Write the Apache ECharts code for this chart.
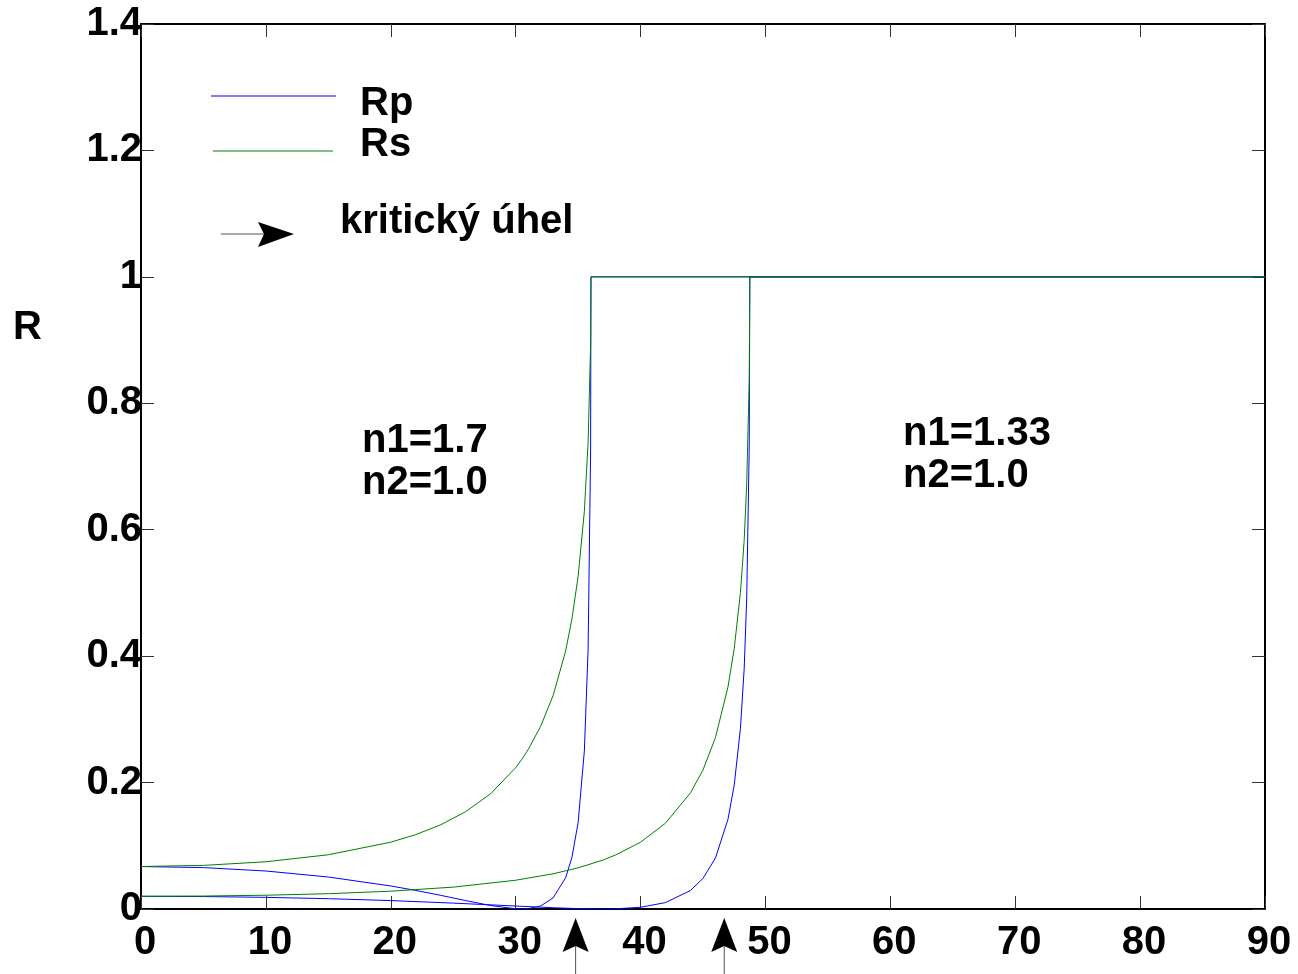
<!DOCTYPE html>
<html>
<head>
<meta charset="utf-8">
<title>R</title>
<script src="https://cdn.jsdelivr.net/npm/echarts@6/dist/echarts.min.js"></script>
<style>
  html, body { margin: 0; padding: 0; background: #fff; }
  #chart { width: 1298px; height: 974px; }
</style>
</head>
<body>
<div id="chart"></div>
<script>
// uhly dopadu (stupne) a odrazivosti
var angle17 = [0, 5, 10, 15, 20, 22, 24, 26, 28, 30, 30.5, 31, 32, 33, 34, 34.5, 35, 35.5, 35.8, 36, 36.03, 90];
var rp17 = [0.0672, 0.0655, 0.0601, 0.0506, 0.0364, 0.0294, 0.0216, 0.0133, 0.0055, 0.0003, 0, 0.0005, 0.0048, 0.0176, 0.0493, 0.0811, 0.1366, 0.25, 0.41, 0.723, 1, 1];
var rs17 = [0.0672, 0.069, 0.0747, 0.0858, 0.1057, 0.1177, 0.1332, 0.154, 0.1824, 0.2236, 0.237, 0.2521, 0.289, 0.3377, 0.408, 0.4584, 0.526, 0.629, 0.7377, 0.894, 1, 1];

var angle133 = [0, 5, 10, 15, 20, 25, 30, 33, 35, 37, 38, 40, 42, 44, 45, 46, 47, 47.5, 48, 48.3, 48.5, 48.7, 48.75, 90];
var rp133 = [0.0201, 0.0197, 0.0184, 0.0163, 0.0133, 0.0093, 0.0047, 0.002, 0.0006, 0, 0.0003, 0.0027, 0.0102, 0.0293, 0.0484, 0.0808, 0.142, 0.196, 0.286, 0.381, 0.492, 0.729, 1, 1];
var rs133 = [0.0201, 0.0205, 0.0218, 0.0242, 0.0282, 0.0346, 0.0455, 0.0557, 0.0651, 0.0775, 0.0854, 0.1057, 0.1358, 0.1838, 0.22, 0.2713, 0.3513, 0.412, 0.501, 0.584, 0.672, 0.836, 1, 1];

// sipky kritickeho uhlu pod osou x
var arrowAngles = [34.8, 46.7];

var font = 'Liberation Sans, Arial, sans-serif';
var blue = '#0000ff', green = '#008000';

function pairs(xs, ys) {
    return xs.map(function (x, i) { return [x, ys[i]]; });
}

function lineSeries(name, color, data) {
    return {
        name: name,
        type: 'line',
        data: data,
        symbol: 'none',
        color: color,
        lineStyle: { color: color, width: 1 },
        xAxisIndex: 0,
        yAxisIndex: 0,
        animation: false
    };
}

function label(text, x, y, extra) {
    var style = { text: text, x: x, y: y, fontSize: 40, fontWeight: 'bold', fill: '#000', fontFamily: font, verticalAlign: 'middle' };
    for (var k in extra) style[k] = extra[k];
    return { type: 'text', style: style };
}

var frameLine = { show: true, onZero: false, lineStyle: { color: '#000', width: 2 } };
var tick = { show: true, inside: true, length: 13, lineStyle: { color: '#333', width: 1 } };

var chart = echarts.init(document.getElementById('chart'));
chart.setOption({
    animation: false,
    backgroundColor: '#fff',
    grid: { left: 141, right: 33, top: 24, bottom: 65, containLabel: false },
    xAxis: [{
        type: 'value', min: 0, max: 90, interval: 10,
        axisLine: frameLine, axisTick: tick, splitLine: { show: false },
        axisLabel: { fontSize: 40, fontWeight: 'bold', color: '#000', fontFamily: font, margin: 14, padding: [0, 0, 0, 8] }
    }, {
        type: 'value', position: 'top', min: 0, max: 90, interval: 10,
        axisLine: frameLine, axisTick: tick, splitLine: { show: false }, axisLabel: { show: false }
    }],
    yAxis: [{
        type: 'value', min: 0, max: 1.4, interval: 0.2,
        axisLine: frameLine, axisTick: tick, splitLine: { show: false },
        axisLabel: { fontSize: 40, fontWeight: 'bold', color: '#000', fontFamily: font, margin: -1 }
    }, {
        type: 'value', position: 'right', min: 0, max: 1.4, interval: 0.2,
        axisLine: frameLine, axisTick: tick, splitLine: { show: false }, axisLabel: { show: false }
    }],
    series: [
        lineSeries('Rp', blue, pairs(angle17, rp17)),
        lineSeries('Rs', green, pairs(angle17, rs17)),
        lineSeries('Rp', blue, pairs(angle133, rp133)),
        lineSeries('Rs', green, pairs(angle133, rs133))
    ]
});

// legenda, popisky a sipky
var base = chart.convertToPixel({ yAxisIndex: 0 }, 0);
var graphics = [
    { type: 'line', shape: { x1: 211, y1: 96, x2: 336, y2: 96 }, style: { stroke: blue, lineWidth: 1 } },
    { type: 'line', shape: { x1: 213, y1: 151, x2: 333, y2: 151 }, style: { stroke: green, lineWidth: 1 } },
    label('Rp', 360, 104),
    label('Rs', 360, 145),
    label('R', 13, 328),
    label('kritický úhel', 340, 222),
    { type: 'line', shape: { x1: 221, y1: 234, x2: 264, y2: 234 }, style: { stroke: '#555', lineWidth: 1 } },
    { type: 'polygon', shape: { points: [[294, 234], [258, 222], [264, 234], [258, 247]] }, style: { fill: '#000' } },
    label('n1=1.7\nn2=1.0', 362, 420, { lineHeight: 42, verticalAlign: 'top' }),
    label('n1=1.33\nn2=1.0', 903, 413, { lineHeight: 42, verticalAlign: 'top' })
];
arrowAngles.forEach(function (a) {
    var x = chart.convertToPixel({ xAxisIndex: 0 }, a);
    graphics.push({ type: 'line', shape: { x1: x, y1: base + 37, x2: x, y2: 974 }, style: { stroke: '#555', lineWidth: 1 } });
    graphics.push({ type: 'polygon', shape: { points: [[x, base + 9], [x - 13, base + 43], [x, base + 37], [x + 13, base + 43]] }, style: { fill: '#000' } });
});
chart.setOption({ graphic: graphics });
</script>
</body>
</html>
